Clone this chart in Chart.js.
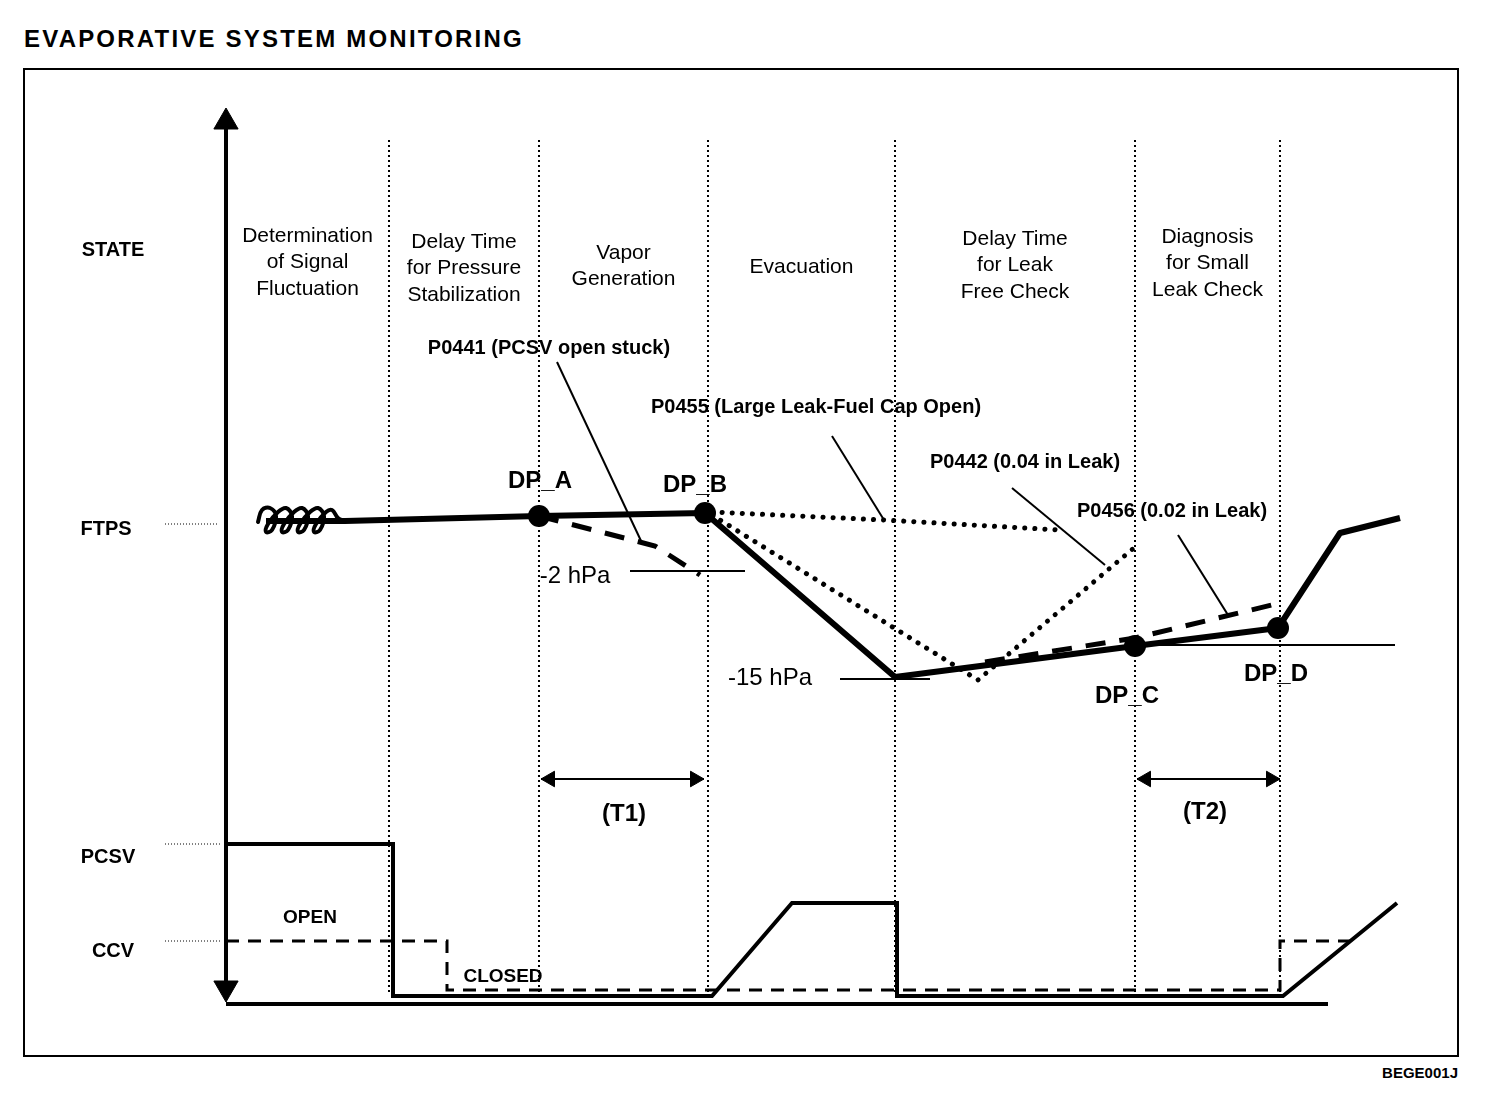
<!DOCTYPE html>
<html>
<head>
<meta charset="utf-8">
<title>Evaporative System Monitoring</title>
<script src="https://cdn.jsdelivr.net/npm/chart.js@4/dist/chart.umd.min.js"></script>
<style>
  html, body { margin: 0; padding: 0; background: #fff; }
  body { width: 1504px; height: 1108px; position: relative; overflow: hidden;
         font-family: "Liberation Sans", Arial, Helvetica, sans-serif; }
  .title { position: absolute; left: 24px; top: 27px; line-height: 24px;
           font-size: 24px; font-weight: bold; letter-spacing: 2.2px; }
  .frame { position: absolute; left: 23px; top: 68px; width: 1436px; height: 989px;
           border: 2px solid #000; box-sizing: border-box; }
  .code { position: absolute; right: 46px; top: 1065px; line-height: 15px;
          font-size: 15px; font-weight: bold; }
  canvas { position: absolute; left: 0; top: 0; }
</style>
</head>
<body>
<div class="title">EVAPORATIVE SYSTEM MONITORING</div>
<div class="frame"></div>
<div class="code">BEGE001J</div>
<canvas id="chart" width="1504" height="1108"></canvas>

<script>
// time runs right from the state axis, level runs up from the bottom line

const phaseNames = [
  ["Determination", "of Signal", "Fluctuation"],
  ["Delay Time", "for Pressure", "Stabilization"],
  ["Vapor", "Generation"],
  ["Evacuation"],
  ["Delay Time", "for Leak", "Free Check"],
  ["Diagnosis", "for Small", "Leak Check"]
];
const phaseBounds = [0, 163, 313, 482, 669, 909, 1054];

// fuel tank pressure, normal run
const ftpsTime  = [40, 119, 313, 479, 669, 909, 1052, 1114, 1174];
const ftpsLevel = [483, 483, 488, 491, 327, 358, 376, 471, 486];

// signal fluctuation at the start (coiled trace)
const noiseTime  = [32, 36, 44, 50, 46, 40, 42, 52, 60, 66, 62, 56, 58, 68, 76, 82, 78, 72, 74, 84, 92, 98, 94, 88, 90, 100, 106, 112, 119];
const noiseLevel = [482, 494, 496, 488, 474, 472, 480, 492, 496, 488, 474, 472, 480, 492, 496, 488, 474, 472, 480, 492, 496, 488, 474, 472, 480, 492, 494, 486, 483];

// fault cases
const p0441Time  = [313, 429, 474];
const p0441Level = [488, 458, 429];
const p0455Time  = [486, 658, 834];
const p0455Level = [492, 484, 474];
const p0442Time  = [486, 752, 909];
const p0442Level = [489, 324, 457];
const p0456Time  = [759, 909, 1054];
const p0456Level = [342, 366, 401];

// check points
const dpNames = ["DP_A", "DP_B", "DP_C", "DP_D"];
const dpTime  = [313, 479, 909, 1052];
const dpLevel = [488, 491, 358, 376];

// valves
const pcsvTime  = [0, 167, 167, 486, 566, 671, 671, 1057, 1171];
const pcsvLevel = [160, 160, 8, 8, 101, 101, 8, 8, 101];
const ccvTime  = [0, 221, 221, 1054, 1054, 1124];
const ccvLevel = [63, 63, 14, 14, 63, 63];

// pressure thresholds
const dp2Time = [404, 519];   const dp2Level = [433, 433];
const dp15Time = [614, 704];  const dp15Level = [325, 325];
const refTime = [909, 1169];  const refLevel = [359, 359];

// timers
const t1Time = [315, 478];
const t2Time = [911, 1054];
const timerLevel = 225;

const pts = (xs, ys) => xs.map((v, i) => ({ x: v, y: ys[i] }));

function line(data, width, dash, extra) {
  return Object.assign({
    data: data, showLine: true, borderColor: "#000", borderWidth: width,
    borderDash: dash || [], pointRadius: 0, fill: false, tension: 0,
    borderCapStyle: "butt", borderJoinStyle: "miter"
  }, extra || {});
}

const datasets = [];

// phase dividers
phaseBounds.slice(1).forEach(b => {
  datasets.push(line(pts([b, b], [864, 9]), 2, [2, 3]));
});

// state axis and bottom line
datasets.push(line(pts([0, 0], [884, 14]), 4));
datasets.push(line(pts([0, 1102], [0, 0]), 4));

// label leaders
datasets.push(line(pts([-61, -8], [480, 480]), 1, [1, 2]));
datasets.push(line(pts([-61, -4], [160, 160]), 1, [1, 2]));
datasets.push(line(pts([-61, -4], [63, 63]), 1, [1, 2]));

// threshold lines
datasets.push(line(pts(dp2Time, dp2Level), 2));
datasets.push(line(pts(dp15Time, dp15Level), 2));
datasets.push(line(pts(refTime, refLevel), 2));

// annotation leaders
datasets.push(line(pts([331, 416], [642, 461]), 2));
datasets.push(line(pts([606, 658], [568, 484]), 2));
datasets.push(line(pts([786, 879], [516, 439]), 2));
datasets.push(line(pts([952, 1002], [469, 389]), 2));

// fault traces
datasets.push(line(pts(p0441Time, p0441Level), 5, [20, 14]));
datasets.push(line(pts(p0455Time, p0455Level), 5, [0.1, 10], { borderCapStyle: "round" }));
datasets.push(line(pts(p0442Time, p0442Level), 5, [0.1, 10], { borderCapStyle: "round" }));
datasets.push(line(pts(p0456Time, p0456Level), 5, [20, 14]));

// ftps
datasets.push(line(pts(noiseTime, noiseLevel), 4, [], { tension: 0.4, borderCapStyle: "round" }));
datasets.push(line(pts(ftpsTime, ftpsLevel), 6, [], { borderJoinStyle: "round" }));

// valves
datasets.push(line(pts(pcsvTime, pcsvLevel), 4));
datasets.push(line(pts(ccvTime, ccvLevel), 3, [13, 9]));

// timers
datasets.push(line(pts(t1Time, [timerLevel, timerLevel]), 2));
datasets.push(line(pts(t2Time, [timerLevel, timerLevel]), 2));

// check point markers
datasets.push({
  data: pts(dpTime, dpLevel), showLine: false, pointRadius: 11,
  pointBackgroundColor: "#000", pointBorderColor: "#000", pointBorderWidth: 0
});

// arrow heads
datasets.push({
  data: pts([0, 0], [882, 16]), showLine: false, pointStyle: "triangle",
  pointRadius: 14, pointRotation: [0, 180],
  pointBackgroundColor: "#000", pointBorderColor: "#000", pointBorderWidth: 1
});
datasets.push({
  data: pts([t1Time[0] + 9, t1Time[1] - 9, t2Time[0] + 9, t2Time[1] - 9],
            [timerLevel, timerLevel, timerLevel, timerLevel]),
  showLine: false, pointStyle: "triangle", pointRadius: 9,
  pointRotation: [270, 90, 270, 90],
  pointBackgroundColor: "#000", pointBorderColor: "#000", pointBorderWidth: 1
});

const phaseFont = "21px 'Liberation Sans', Arial, sans-serif";
const noteFont = "bold 20px 'Liberation Sans', Arial, sans-serif";
const dpFont = "bold 24px 'Liberation Sans', Arial, sans-serif";
const plainBig = "24px 'Liberation Sans', Arial, sans-serif";
const valveFont = "bold 19px 'Liberation Sans', Arial, sans-serif";
const phaseTop = [762.5, 756.5, 745.5, 731.5, 759.5, 761.5];
const dpLabelAt = [[314, 516], [469, 512], [901, 301], [1050, 323]];

const textItems = [];
phaseNames.forEach((names, i) => {
  textItems.push({ text: names, t: (phaseBounds[i] + phaseBounds[i + 1]) / 2,
                   level: phaseTop[i], lead: 26.5, font: phaseFont });
});
dpNames.forEach((n, i) => {
  textItems.push({ text: n, t: dpLabelAt[i][0], level: dpLabelAt[i][1], font: dpFont });
});
textItems.push(
  { text: "STATE", t: -113, level: 748, font: noteFont },
  { text: "FTPS", t: -120, level: 469, font: noteFont },
  { text: "PCSV", t: -118, level: 141, font: noteFont },
  { text: "CCV", t: -113, level: 47, font: noteFont },
  { text: "P0441 (PCSV open stuck)", t: 323, level: 650, font: noteFont },
  { text: "P0455 (Large Leak-Fuel Cap Open)", t: 590, level: 591, font: noteFont },
  { text: "P0442 (0.04 in Leak)", t: 799, level: 536, font: noteFont },
  { text: "P0456 (0.02 in Leak)", t: 946, level: 487, font: noteFont },
  { text: "-2 hPa", t: 349, level: 421, font: plainBig },
  { text: "-15 hPa", t: 544, level: 319, font: plainBig },
  { text: "(T1)", t: 398, level: 183, font: dpFont },
  { text: "(T2)", t: 979, level: 185, font: dpFont },
  { text: "OPEN", t: 84, level: 81, font: valveFont },
  { text: "CLOSED", t: 277, level: 22, font: valveFont }
);

const diagramText = {
  id: "diagramText",
  afterDatasetsDraw(chart, args, opts) {
    const ctx = chart.ctx;
    const xs = chart.scales.x, ys = chart.scales.y;
    ctx.save();
    ctx.fillStyle = "#000";
    ctx.textBaseline = "alphabetic";
    opts.items.forEach(it => {
      ctx.font = it.font;
      ctx.textAlign = it.align || "center";
      const lines = Array.isArray(it.text) ? it.text : [it.text];
      lines.forEach((s, i) => {
        ctx.fillText(s, xs.getPixelForValue(it.t), ys.getPixelForValue(it.level) + i * (it.lead || 0));
      });
    });
    ctx.restore();
  }
};

const ctx = document.getElementById("chart").getContext("2d");
const chart = new Chart(ctx, {
  type: "scatter",
  data: { datasets: datasets },
  options: {
    responsive: false,
    devicePixelRatio: 1,
    animation: false,
    events: [],
    layout: { padding: 0, autoPadding: false },
    scales: {
      x: { type: "linear", min: -226, max: 1278, display: false },
      y: { type: "linear", min: -104, max: 1004, display: false }
    },
    plugins: {
      legend: { display: false },
      tooltip: { enabled: false },
      diagramText: { items: textItems }
    }
  },
  plugins: [diagramText]
});
</script>
</body>
</html>
